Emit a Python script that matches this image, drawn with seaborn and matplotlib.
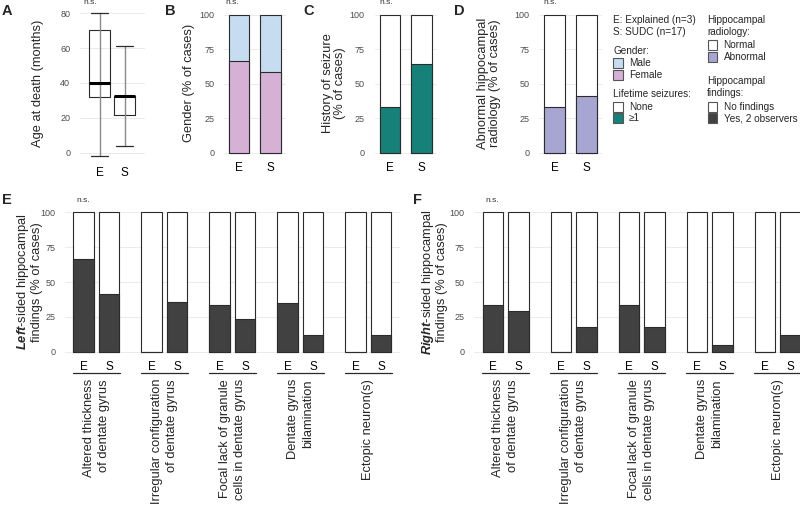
import numpy as np
import pandas as pd
import matplotlib
matplotlib.use('Agg')
import matplotlib.pyplot as plt
import matplotlib.transforms as mtransforms
from matplotlib.patches import Rectangle
import seaborn as sns

sns.set_style('white')
plt.rcParams['font.family'] = ['Liberation Sans', 'DejaVu Sans']
plt.rcParams['mathtext.fontset'] = 'custom'
plt.rcParams['mathtext.rm'] = 'Liberation Sans'
plt.rcParams['mathtext.bfit'] = 'Liberation Sans:italic:bold'

# ---- data ----
groups = ['E', 'S']

# A: age at death (months), box stats
age_min = [-2, 3.8]
age_q1 = [32, 21.5]
age_med = [40, 32.5]
age_q3 = [70.5, 32.5]
age_max = [80, 61]

# B-D: % of cases
female_pct = [66.7, 58.8]
seizure_pct = [33.3, 64.7]
abn_radiology_pct = [33.3, 41.2]

# E-F: hippocampal findings (% of cases)
findings = ['Altered thickness\nof dentate gyrus',
            'Irregular configuration\nof dentate gyrus',
            'Focal lack of granule\ncells in dentate gyrus',
            'Dentate gyrus\nbilamination',
            'Ectopic neuron(s)']
left_E = [66.7, 0, 33.3, 35.0, 0]
left_S = [41.2, 35.3, 23.5, 11.8, 11.8]
right_E = [33.3, 0, 33.3, 0, 0]
right_S = [29.4, 17.6, 17.6, 5.0, 11.8]

# ---- style ----
C_MALE = '#C6DCF0'
C_FEMALE = '#D5B1D6'
C_SEIZ = '#15827A'
C_ABN = '#A7A5D2'
C_DARK = '#414141'
EDGE = '#2b2b2b'
GRID = '#EBEBEB'
TICK_GREY = '#4D4D4D'

W, H = 800, 508
fig = plt.figure(figsize=(8, 5.08), dpi=100)


def px_axes(left, top, right, bottom):
    return fig.add_axes([left / W, 1 - bottom / H, (right - left) / W, (bottom - top) / H])


def style_axes(ax, yticks):
    for s in ax.spines.values():
        s.set_visible(False)
    ax.set_yticks(yticks)
    ax.yaxis.grid(True, color=GRID, lw=0.7)
    ax.xaxis.grid(False)
    ax.set_axisbelow(True)
    ax.tick_params(axis='y', length=0, pad=7, labelsize=6.5, labelcolor=TICK_GREY)
    ax.tick_params(axis='x', length=0, pad=5, labelsize=8.5, labelcolor='black')
    ax.set_xlabel('')
    ax.set_ylabel('')


def ftext(x, y, s, **kw):
    return fig.text(x / W, 1 - y / H, s, **kw)


def stacked_pair(ax, bottom_vals, top_color, bottom_color):
    df = pd.DataFrame({'group': groups, 'full': [100, 100], 'pct': bottom_vals})
    sns.barplot(data=df, x='group', y='full', order=groups, color=top_color, saturation=1,
                width=0.65, edgecolor=EDGE, linewidth=0.8, errorbar=None, ax=ax)
    sns.barplot(data=df, x='group', y='pct', order=groups, color=bottom_color, saturation=1,
                width=0.65, edgecolor=EDGE, linewidth=0.8, errorbar=None, ax=ax)


# ---- A: box plot ----
axA = px_axes(80, 6, 145, 160)
stats = [dict(whislo=age_min[i], q1=age_q1[i], med=age_med[i], q3=age_q3[i],
              whishi=age_max[i], label=groups[i]) for i in range(2)]
axA.vlines([0, 1], age_q1, age_q3, color='#8a8a8a', lw=1.0, zorder=1)
axA.bxp(stats, positions=[0, 1], widths=0.84, capwidths=0.7, showfliers=False,
        boxprops=dict(color=EDGE, lw=0.8),
        medianprops=dict(color='black', lw=2.2),
        whiskerprops=dict(color='#8a8a8a', lw=1.0),
        capprops=dict(color=EDGE, lw=0.9))
axA.set_xlim(-0.78, 1.82)
axA.set_ylim(-4.2, 84.2)
style_axes(axA, [0, 20, 40, 60, 80])
axA.set_xticks([0, 1], groups)

# ---- B-D ----
axB = px_axes(224, 13, 286, 155)
stacked_pair(axB, female_pct, C_MALE, C_FEMALE)
axC = px_axes(374.5, 13, 437, 155)
stacked_pair(axC, seizure_pct, 'white', C_SEIZ)
axD = px_axes(539, 13, 602, 155)
stacked_pair(axD, abn_radiology_pct, 'white', C_ABN)
for ax in (axB, axC, axD):
    ax.set_xlim(-0.486, 1.495)
    ax.set_ylim(-1.67, 101.45)
    style_axes(ax, [0, 25, 50, 75, 100])

# ---- E-F ----
STEP = 68.0 / 25.5
pos_E = [i * STEP for i in range(len(findings))]
pos_S = [p + 1 for p in pos_E]


def findings_panel(ax, e_vals, s_vals):
    df = pd.DataFrame({'pos': pos_E + pos_S, 'pct': e_vals + s_vals})
    df['full'] = 100
    sns.barplot(data=df, x='pos', y='full', native_scale=True, width=0.8, color='white',
                saturation=1, edgecolor=EDGE, linewidth=0.8, errorbar=None, ax=ax)
    sns.barplot(data=df, x='pos', y='pct', native_scale=True, width=0.8, color=C_DARK,
                saturation=1, edgecolor=EDGE, linewidth=0.8, errorbar=None, ax=ax)
    ax.set_xlim(-0.733, pos_S[-1] + 0.733)
    ax.set_ylim(-1.65, 101.65)
    style_axes(ax, [0, 25, 50, 75, 100])
    ticks = sorted(pos_E + pos_S)
    ax.set_xticks(ticks, ['E', 'S'] * len(findings))
    trans = mtransforms.blended_transform_factory(ax.transData, fig.transFigure)
    for pe, ps, name in zip(pos_E, pos_S, findings):
        ax.plot([pe - 0.42, ps + 0.42], [1 - 373.3 / H] * 2, color=EDGE, lw=0.9,
                transform=trans, clip_on=False)
        ax.text((pe + ps) / 2, 1 - 379 / H, name, transform=trans, rotation=90,
                ha='center', va='top', multialignment='right', linespacing=1.35,
                fontsize=9.3)


axE = px_axes(65, 210, 65 + (pos_S[-1] + 1.466) * 25.5, 354)
findings_panel(axE, left_E, left_S)
axF = px_axes(474.3, 210, 474.3 + (pos_S[-1] + 1.466) * 25.5, 354)
findings_panel(axF, right_E, right_S)

# ---- y labels ----
ylab = dict(rotation=90, ha='center', va='center', multialignment='center', fontsize=9.3,
            linespacing=1.1)
ftext(37.5, 83, 'Age at death (months)', **ylab)
ftext(189, 83, 'Gender (% of cases)', **ylab)
ftext(334, 83, 'History of seizure\n(% of cases)', **ylab)
ftext(489, 83, 'Abnormal hippocampal\nradiology (% of cases)', **ylab)
ftext(29, 282, '$\\mathbfit{Left}$-sided hippocampal\nfindings (% of cases)', **ylab)
ftext(434, 282, '$\\mathbfit{Right}$-sided hippocampal\nfindings (% of cases)', **ylab)

# ---- panel letters and n.s. ----
for letter, x, y in [('A', 2, 11), ('B', 165, 11), ('C', 303, 11), ('D', 454, 11),
                     ('E', 2, 200), ('F', 413, 200)]:
    ftext(x, y, letter, fontsize=10.5, fontweight='bold', va='center', ha='left')
for x, y in [(83, 2.5), (225.5, 2.5), (379, 2.5), (543, 2.5), (76, 200), (485, 200)]:
    ftext(x, y, 'n.s.', fontsize=6, color='#333333', va='center', ha='left')

# ---- legend ----
LFS = 7.2
ftext(613, 20, 'E: Explained (n=3)', fontsize=LFS, va='center')
ftext(613, 32.3, 'S: SUDC (n=17)', fontsize=LFS, va='center')
ftext(613, 50.7, 'Gender:', fontsize=LFS, va='center')
ftext(613, 94, 'Lifetime seizures:', fontsize=LFS, va='center')
ftext(707, 20, 'Hippocampal', fontsize=LFS, va='center')
ftext(707, 32.3, 'radiology:', fontsize=LFS, va='center')
ftext(707, 81, 'Hippocampal', fontsize=LFS, va='center')
ftext(707, 93.3, 'findings:', fontsize=LFS, va='center')

legend_items = [
    (613, 63, C_MALE, 'Male'), (613, 75.3, C_FEMALE, 'Female'),
    (613, 106.7, 'white', 'None'), (613, 118.3, C_SEIZ, '\u22651'),
    (707.5, 45, 'white', 'Normal'), (707.5, 57.3, C_ABN, 'Abnormal'),
    (707.5, 106.7, 'white', 'No findings'), (707.5, 118.3, C_DARK, 'Yes, 2 observers'),
]
for x, y, col, label in legend_items:
    fig.patches.append(Rectangle((x / W, 1 - (y + 5) / H), 9.5 / W, 10 / H,
                                 transform=fig.transFigure, facecolor=col,
                                 edgecolor='#555555', lw=0.8))
    ftext(x + 16, y, label, fontsize=LFS, va='center')

fig.savefig('out.png', dpi=100)
